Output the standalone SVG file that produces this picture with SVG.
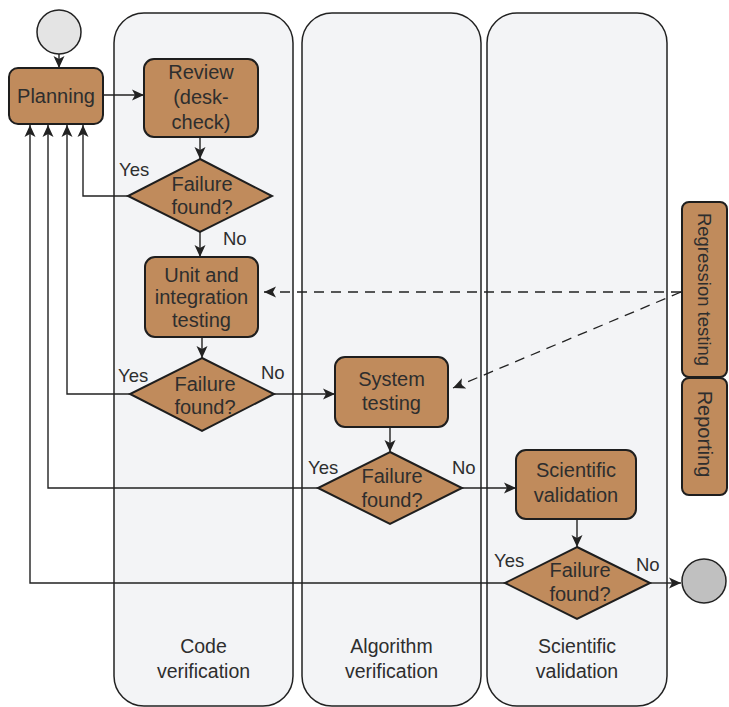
<svg xmlns="http://www.w3.org/2000/svg" width="729" height="707" viewBox="0 0 729 707">
<style>
text{font-family:"Liberation Sans",Arial,sans-serif;fill:#2e2e2e}
.lane{fill:#f3f4f6;stroke:#222;stroke-width:1.5}
.box{fill:#c08b5c;stroke:#1e1e1e;stroke-width:2}
.t{font-size:20px;text-anchor:middle}
.lbl{font-size:18.5px}
.ll{font-size:19.5px;text-anchor:middle}
.c{fill:none;stroke:#222;stroke-width:1.4}
.d{fill:none;stroke:#222;stroke-width:1.3;stroke-dasharray:10 7}
</style>
<defs>
<marker id="ah" markerUnits="userSpaceOnUse" markerWidth="13" markerHeight="12" refX="12" refY="5.5" orient="auto" viewBox="0 0 13 11">
<path d="M0,0 L12,5.5 L0,11 L3,5.5 z" fill="#222"/>
</marker>
</defs>
<g id="lanes">
<g id="lane-code"><rect class="lane" x="114" y="13" width="179" height="693" rx="30"/><text class="ll" x="203.5" y="653">Code</text><text class="ll" x="203.5" y="678">verification</text></g>
<g id="lane-algorithm"><rect class="lane" x="302" y="13" width="179" height="693" rx="30"/><text class="ll" x="391.5" y="653">Algorithm</text><text class="ll" x="391.5" y="678">verification</text></g>
<g id="lane-scientific"><rect class="lane" x="487" y="13" width="180" height="693" rx="30"/><text class="ll" x="577" y="653">Scientific</text><text class="ll" x="577" y="678">validation</text></g>
</g>
<g id="connectors">
<line class="c" x1="59" y1="54" x2="59" y2="68" marker-end="url(#ah)"/>
<line class="c" x1="103" y1="95" x2="144" y2="95" marker-end="url(#ah)"/>
<line class="c" x1="200" y1="137" x2="200" y2="159" marker-end="url(#ah)"/>
<line class="c" x1="200" y1="232" x2="200" y2="257" marker-end="url(#ah)"/>
<line class="c" x1="202" y1="337" x2="202" y2="358" marker-end="url(#ah)"/>
<line class="c" x1="390" y1="427" x2="390" y2="452" marker-end="url(#ah)"/>
<line class="c" x1="577" y1="519" x2="577" y2="547" marker-end="url(#ah)"/>
<line class="c" x1="274" y1="394" x2="335" y2="394" marker-end="url(#ah)"/>
<line class="c" x1="462" y1="488" x2="516" y2="488" marker-end="url(#ah)"/>
<line class="c" x1="650" y1="583" x2="681" y2="583" marker-end="url(#ah)"/>
<polyline class="c" points="128,196 83,196 83,125" marker-end="url(#ah)"/>
<polyline class="c" points="130,394 67,394 67,125" marker-end="url(#ah)"/>
<polyline class="c" points="318,488 48,488 48,125" marker-end="url(#ah)"/>
<polyline class="c" points="505,583 30,583 30,125" marker-end="url(#ah)"/>
<line class="d" x1="681" y1="292" x2="264" y2="292" marker-end="url(#ah)"/>
<line class="d" x1="681" y1="292" x2="453" y2="388" marker-end="url(#ah)"/>
</g>
<g id="start"><circle cx="59" cy="32" r="22" fill="#e4e4e4" stroke="#222" stroke-width="1.5"/></g>
<g id="planning"><rect class="box" x="9" y="68" width="94" height="56" rx="9"/><text class="t" x="56" y="103">Planning</text></g>
<g id="review"><rect class="box" x="144" y="59" width="114" height="78" rx="10"/><text class="t" x="201" y="79">Review</text><text class="t" x="201" y="104">(desk-</text><text class="t" x="201" y="129">check)</text></g>
<g id="decision1"><polygon class="box" points="200,159 272,196 200,232 128,196"/><text class="t" x="202" y="191">Failure</text><text class="t" x="202" y="214">found?</text><text class="lbl" x="119" y="176">Yes</text><text class="lbl" x="223" y="245">No</text></g>
<g id="unit"><rect class="box" x="145" y="257" width="113" height="80" rx="10"/><text class="t" x="201.5" y="282">Unit and</text><text class="t" x="201.5" y="304">integration</text><text class="t" x="201.5" y="327">testing</text></g>
<g id="decision2"><polygon class="box" points="202,358 274,394 202,431 130,394"/><text class="t" x="205" y="391">Failure</text><text class="t" x="205" y="414">found?</text><text class="lbl" x="118" y="382">Yes</text><text class="lbl" x="261" y="379">No</text></g>
<g id="system"><rect class="box" x="335" y="357" width="113" height="70" rx="10"/><text class="t" x="391.5" y="386">System</text><text class="t" x="391.5" y="410">testing</text></g>
<g id="decision3"><polygon class="box" points="390,452 462,488 390,524 318,488"/><text class="t" x="392" y="483">Failure</text><text class="t" x="392" y="507">found?</text><text class="lbl" x="308" y="474">Yes</text><text class="lbl" x="452" y="474">No</text></g>
<g id="scival"><rect class="box" x="516" y="450" width="120" height="69" rx="10"/><text class="t" x="576" y="477">Scientific</text><text class="t" x="576" y="502">validation</text></g>
<g id="decision4"><polygon class="box" points="577,547 650,583 577,619 505,583"/><text class="t" x="580" y="577">Failure</text><text class="t" x="580" y="601">found?</text><text class="lbl" x="494" y="567">Yes</text><text class="lbl" x="636" y="571">No</text></g>
<g id="end"><circle cx="704" cy="581" r="22" fill="#c0c0c0" stroke="#222" stroke-width="1.5"/></g>
<g id="regression"><rect class="box" x="682" y="202" width="45" height="175" rx="7"/><text class="t" style="font-size:18.5px" transform="translate(704.5,289.5) rotate(90)" x="0" y="6.5">Regression testing</text></g>
<g id="reporting"><rect class="box" x="682" y="378" width="45" height="117" rx="7"/><text class="t" style="font-size:20px" transform="translate(704.5,434) rotate(90)" x="0" y="7">Reporting</text></g>
</svg>
